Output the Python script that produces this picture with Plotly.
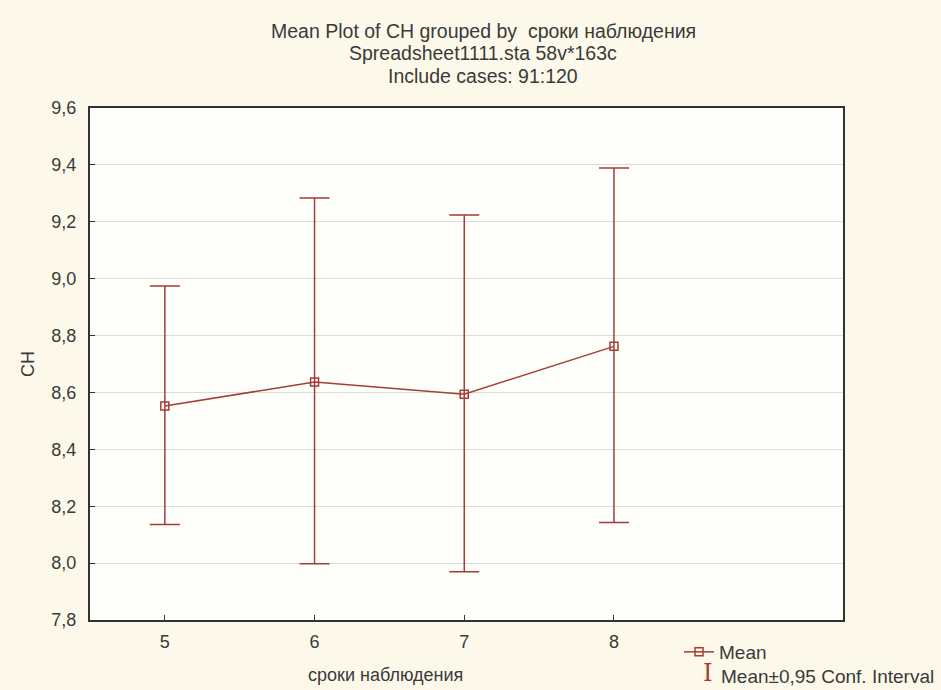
import plotly.graph_objects as go

# Data
periods = [5, 6, 7, 8]
means = [8.552, 8.637, 8.594, 8.762]
ci_upper = [8.974, 9.284, 9.224, 9.389]
ci_lower = [8.136, 7.998, 7.970, 8.143]
y_ticks = [7.8, 8.0, 8.2, 8.4, 8.6, 8.8, 9.0, 9.2, 9.4, 9.6]
title_lines = ["Mean Plot of CH grouped by  сроки наблюдения",
               "Spreadsheet1111.sta 58v*163c",
               "Include cases: 91:120"]
x_title = "сроки наблюдения"
y_title = "CH"
ci_label = "Mean±0,95 Conf. Interval"

err_plus = [u - m for u, m in zip(ci_upper, means)]
err_minus = [m - l for m, l in zip(means, ci_lower)]

RED = "#A33D36"
TXT = "#3A3A3A"
FONT = "Liberation Sans, Arial, sans-serif"

W, H = 941, 690
L, R, T, B = 90, 98, 108, 10
PH = H - T - B           # paper height
PW = W - L - R           # paper width
PLOT_BOTTOM = 620


def px(xp):
    return (xp - L) / PW


def py(yp):
    return (H - B - yp) / PH


fig = go.Figure()
fig.add_trace(go.Scatter(
    x=periods, y=means, mode="lines+markers", name="Mean",
    line=dict(color=RED, width=1.5),
    marker=dict(symbol="square-open", size=8, color=RED, line=dict(width=1.5, color=RED)),
    error_y=dict(type="data", symmetric=False, array=err_plus, arrayminus=err_minus,
                 color=RED, thickness=1.5, width=15),
    showlegend=True,
))

for i, t in enumerate(title_lines):
    fig.add_annotation(text=t, xref="paper", yref="paper", x=px(483), y=py([31, 53, 76][i]),
                       xanchor="center", yanchor="middle", showarrow=False,
                       font=dict(family=FONT, size=19.5, color=TXT))

fig.add_annotation(text=x_title, xref="paper", yref="paper", x=px(385), y=py(675),
                   xanchor="center", yanchor="middle", showarrow=False,
                   font=dict(family=FONT, size=18, color=TXT))

fig.add_annotation(text=ci_label, xref="paper", yref="paper", x=px(719), y=py(676),
                   xanchor="left", yanchor="middle", showarrow=False,
                   font=dict(family=FONT, size=19, color=TXT))
fig.add_annotation(text="I", xref="paper", yref="paper", x=px(707), y=py(673),
                   xanchor="center", yanchor="middle", showarrow=False,
                   font=dict(family="DejaVu Serif", size=24, color=RED))

fig.update_layout(
    width=W, height=H,
    margin=dict(l=L, r=R, t=T, b=B, autoexpand=False),
    paper_bgcolor="#FCF9EA", plot_bgcolor="#FEFEFB",
    separators=", ",
    font=dict(family=FONT, size=18, color=TXT),
    legend=dict(x=px(679), y=py(652), xanchor="left", yanchor="middle",
                bgcolor="rgba(0,0,0,0)", font=dict(size=19, color=TXT),
                itemwidth=30, borderwidth=0),
    xaxis=dict(range=[4.5, 9.53], tickvals=periods, ticktext=[str(p) for p in periods],
               showgrid=False, zeroline=False, showline=True, linecolor="#333", linewidth=2,
               mirror=True, ticks="inside", ticklen=5, tickcolor="#333",
               ticklabelstandoff=4, anchor="y"),
    yaxis=dict(range=[7.8, 9.6], tickvals=y_ticks, tickformat=".1f",
               domain=[(H - B - PLOT_BOTTOM) / PH, 1],
               showgrid=True, gridcolor="#DCDCDC", gridwidth=1, zeroline=False,
               showline=True, linecolor="#333", linewidth=2, mirror=True,
               ticks="inside", ticklen=5, tickcolor="#333", ticklabelstandoff=8,
               title=dict(text=y_title, standoff=12, font=dict(size=18, color=TXT))),
)

fig.write_html("out.html", config={"displayModeBar": False},
               post_script="document.body.style.margin='0';")
